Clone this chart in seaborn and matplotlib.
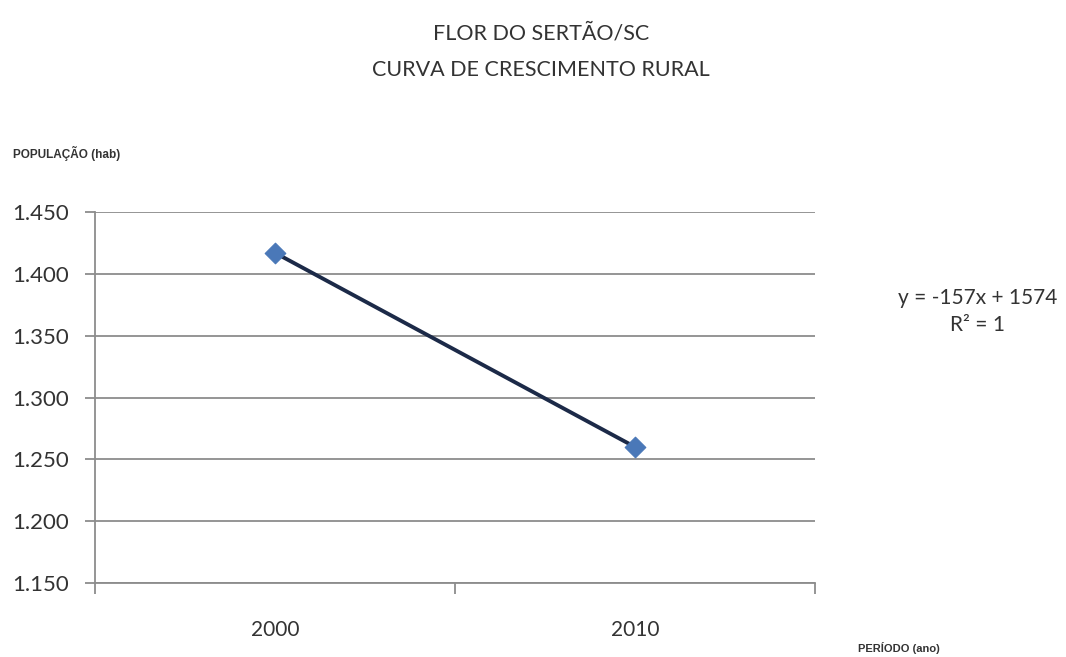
import matplotlib
matplotlib.use("Agg")
import matplotlib.pyplot as plt
import matplotlib.ticker as mticker
import seaborn as sns
import pandas as pd

# dados
anos = ["2000", "2010"]
populacao = [1417, 1260]
yticks = [1150, 1200, 1250, 1300, 1350, 1400, 1450]

df = pd.DataFrame({"ano": anos, "pop": populacao})

sns.set_style("white")
plt.rcParams["font.family"] = ["Lato", "DejaVu Sans"]
narrow = ["Liberation Sans Narrow", "Liberation Sans", "DejaVu Sans"]

fig = plt.figure(figsize=(10.66, 6.57), dpi=100)
ax = fig.add_axes([95 / 1066, 1 - 583 / 657, 720 / 1066, 371 / 657])

sns.lineplot(data=df, x="ano", y="pop", ax=ax, color="#1c2a48", linewidth=2.8, zorder=3)
sns.scatterplot(data=df, x="ano", y="pop", ax=ax, marker="D", s=110,
                color="#4a78b8", edgecolor="#4a78b8", zorder=4, legend=False)

ax.set_xlim(-0.5, 1.5)
ax.set_ylim(1150, 1450)
ax.set_yticks(yticks)
ax.yaxis.set_major_formatter(mticker.FuncFormatter(lambda v, p: f"{int(v):,}".replace(",", ".")))
ax.set_xticks([0, 1])
ax.set_xticks([-0.5, 0.5, 1.5], minor=True)
ax.grid(axis="y", color="#8c8c8c", linewidth=1.3)
ax.set_axisbelow(True)

for s in ["top", "right"]:
    ax.spines[s].set_visible(False)
ax.spines["left"].set_color("#8c8c8c")
ax.spines["bottom"].set_color("#8c8c8c")
ax.spines["left"].set_linewidth(1.3)
ax.spines["bottom"].set_linewidth(1.3)

ax.tick_params(axis="y", which="major", left=True, length=7, color="#8c8c8c", width=1.3,
               labelsize=16, pad=12, labelcolor="#333333")
ax.tick_params(axis="x", which="major", bottom=True, length=0, labelsize=15, pad=27,
               labelcolor="#333333")
ax.tick_params(axis="x", which="minor", bottom=True, length=8, color="#8c8c8c", width=1.3,
               direction="out")
ax.set_xlabel("")
ax.set_ylabel("")

fig.text(541 / 1066, 1 - 33 / 657, "FLOR DO SERTÃO/SC", ha="center", va="center",
         fontsize=15.5, color="#333333")
fig.text(541 / 1066, 1 - 70 / 657, "CURVA DE CRESCIMENTO RURAL", ha="center", va="center",
         fontsize=15.5, color="#333333")
fig.text(13 / 1066, 1 - 153 / 657, "POPULAÇÃO (hab)", ha="left", va="center",
         fontsize=8.5, color="#333333", family=narrow, fontweight="bold")
fig.text(858 / 1066, 1 - 648 / 657, "PERÍODO (ano)", ha="left", va="center",
         fontsize=8, color="#333333", family=narrow, fontweight="bold")
fig.text(978 / 1066, 1 - 298 / 657, "y = -157x + 1574", ha="center", va="center",
         fontsize=15, color="#333333")
fig.text(978 / 1066, 1 - 325 / 657, "R² = 1", ha="center", va="center",
         fontsize=15, color="#333333")

fig.savefig("out.png", dpi=100)
